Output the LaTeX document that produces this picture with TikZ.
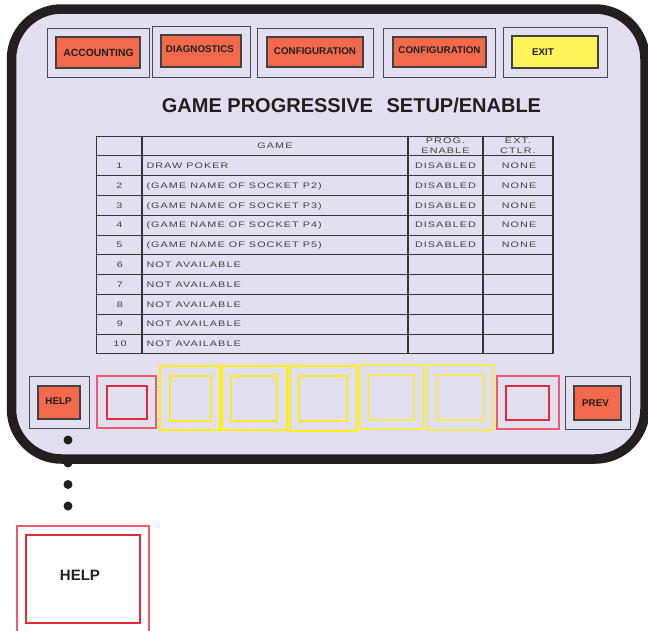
\documentclass[tikz,border=0pt]{standalone}
\usepackage{graphicx}
\usepackage{fontspec}
\setmainfont{Liberation Sans}
\newfontfamily\cellfont{Liberation Sans}[LetterSpace=10]

\definecolor{panelbg}{HTML}{E1DFF0}
\definecolor{ink}{HTML}{231F20}
\definecolor{btnred}{HTML}{F26A4B}
\definecolor{btnyel}{HTML}{FFF35C}
\definecolor{framegray}{HTML}{4A4A55}
\definecolor{keyred}{HTML}{E8283A}
\definecolor{keypink}{HTML}{EF5A6C}
\definecolor{keyyel}{HTML}{FFF200}
\definecolor{keyyelin}{HTML}{F8EC2A}
\definecolor{keyyelpale}{HTML}{F5EC55}

% wide, tracked lettering used in the table cells
\newcommand\widetext[1]{\scalebox{1.35}[1]{#1}}
\newcommand\widestack[1]{\scalebox{1.35}[1]{\begin{tabular}{@{}c@{}}#1\end{tabular}}}

% rectangle node given by two opposite corners: name, style, x1, y1, x2, y2
\newcommand\cornerbox[6]{%
  \node[#2, minimum width={(#5)-(#3)}, minimum height={(#6)-(#4)}]
    (#1) at ({((#3)+(#5))/2},{((#4)+(#6))/2}) {};}

\begin{document}
\begin{tikzpicture}[x=1pt, y=-1pt,
  every node/.style={inner sep=0pt, outer sep=0pt, text=ink},
  panel/.style={rectangle, rounded corners=50pt, fill=panelbg, draw=ink, line width=9.5pt},
  frame/.style={rectangle, draw=framegray, line width=0.9pt},
  redbtn/.style={rectangle, draw=ink!85, line width=1.3pt, fill=btnred},
  yelbtn/.style={rectangle, draw=ink!85, line width=1.3pt, fill=btnyel},
  btnlabel/.style={font=\bfseries\fontsize{9.8}{11}\selectfont},
  keyouter/.style={rectangle, draw=keypink, line width=1.1pt},
  keyinner/.style={rectangle, draw=keyred, line width=1.2pt},
  yelouter/.style={rectangle, draw=keyyel, line width=1.4pt},
  yelinner/.style={rectangle, draw=keyyelin, line width=1.3pt},
  paleouter/.style={rectangle, draw=keyyelpale, line width=1.3pt},
  paleinner/.style={rectangle, draw=keyyelpale, line width=1.3pt},
  gridline/.style={draw=ink!90, line width=0.8pt},
  colline/.style={draw=ink!90, line width=1.2pt},
  cell/.style={font=\cellfont\fontsize{8}{9.5}\selectfont, text=ink!85, text height=5.7pt, text depth=0pt},
  headcell/.style={font=\cellfont\fontsize{8}{9.5}\selectfont, text=ink!85},
  dot/.style={circle, fill=ink, minimum size=9pt},
]
\useasboundingbox (0,0) rectangle (648,630);
\clip (0,0) rectangle (648,630);

% console panel
\node[panel, minimum width=633.5pt, minimum height=450pt] (panel) at (328.25,234) {};

% top row of buttons
\cornerbox{accframe}{frame}{47}{28}{149}{77}
\cornerbox{acc}{redbtn}{56}{37}{140}{68}
\node[btnlabel, font=\bfseries\fontsize{10.4}{12}\selectfont] (acclbl) at (98.5,52.5) {ACCOUNTING};

\cornerbox{diagframe}{frame}{152}{26}{250}{77}
\cornerbox{diag}{redbtn}{161}{35}{241}{67}
\node[btnlabel] (diaglbl) at (200,49) {DIAGNOSTICS};

\cornerbox{confaframe}{frame}{257}{28}{373}{77}
\cornerbox{confa}{redbtn}{267}{37}{363}{67}
\node[btnlabel] (confalbl) at (315,51.5) {CONFIGURATION};

\cornerbox{confbframe}{frame}{383}{28}{495}{77}
\cornerbox{confb}{redbtn}{393}{37}{486}{67}
\node[btnlabel] (confblbl) at (439.5,50) {CONFIGURATION};

\cornerbox{exitframe}{frame}{503}{27}{607}{77}
\cornerbox{exit}{yelbtn}{512}{36}{598}{68}
\node[btnlabel] (exitlbl) at (543,52) {EXIT};

% title
\node[font=\bfseries\fontsize{20}{24}\selectfont] (title) at (351.5,105)
  {GAME PROGRESSIVE\hspace{0.4em} SETUP/ENABLE};

% game table
\foreach \k in {0,...,11}
  \draw[gridline] (96,{136+19.8*\k}) -- (553,{136+19.8*\k});
\draw[gridline] (96,136) -- (96,353.8);
\foreach \cx in {142,408,483,553}
  \draw[colline] (\cx,136) -- (\cx,353.8);

\node[cell] (hgame) at (275,146) {\widetext{GAME}};
\node[headcell] (hprog) at (445.5,146.5) {\widestack{PROG.\\ENABLE}};
\node[headcell] (hext) at (518,146.5) {\widestack{EXT.\\CTLR.}};

\foreach \i/\g in {1/{DRAW POKER}, 2/{(GAME NAME OF SOCKET P2)}, 3/{(GAME NAME OF SOCKET P3)},
                   4/{(GAME NAME OF SOCKET P4)}, 5/{(GAME NAME OF SOCKET P5)}} {
  \node[cell] (num\i) at (119.5,{136+19.8*\i+9.9}) {\widetext{\i}};
  \node[cell, anchor=west] (game\i) at (146.5,{136+19.8*\i+9.9}) {\widetext{\g}};
  \node[cell] (prog\i) at (445.5,{136+19.8*\i+9.9}) {\widetext{DISABLED}};
  \node[cell] (ext\i) at (519,{136+19.8*\i+9.9}) {\widetext{NONE}};
}
\foreach \i in {6,...,10} {
  \node[cell] (num\i) at (120,{136+19.8*\i+9.9}) {\widetext{\i}};
  \node[cell, anchor=west] (game\i) at (146.5,{136+19.8*\i+9.9}) {\widetext{NOT AVAILABLE}};
}

% bottom row of keys
\cornerbox{helpframe}{frame}{29}{376}{89}{428}
\cornerbox{help}{redbtn}{38}{386}{80}{419}
\node[btnlabel] (helplbl) at (58.5,401.5) {HELP};

\cornerbox{keyaout}{keyouter}{97}{376}{156}{428}
\cornerbox{keyain}{keyinner}{107}{386}{147}{419}

\cornerbox{ykeyaout}{yelouter}{160}{366}{220}{430}
\cornerbox{ykeyain}{yelinner}{170}{376}{211}{421}
\cornerbox{ykeybout}{yelouter}{222}{366}{287}{430}
\cornerbox{ykeybin}{yelinner}{231}{376}{277}{421}
\cornerbox{ykeycout}{yelouter}{290}{366}{357}{431}
\cornerbox{ykeycin}{yelinner}{299}{376}{347}{421}
\cornerbox{ykeydout}{paleouter}{360}{365}{423}{429}
\cornerbox{ykeydin}{paleinner}{369}{375}{414}{420}
\cornerbox{ykeyeout}{paleouter}{427}{365}{493}{430}
\cornerbox{ykeyein}{paleinner}{437}{375}{484}{420}

\cornerbox{keybout}{keyouter}{497}{376}{559}{429}
\cornerbox{keybin}{keyinner}{506}{386}{549}{420}

\cornerbox{prevframe}{frame}{565}{376}{630}{429}
\cornerbox{prev}{redbtn}{574}{386}{621}{420}
\node[btnlabel] (prevlbl) at (595.5,403) {PREV};

% dotted lead from the HELP key to the help screen
\node[dot] (d1) at (68,440) {};
\node[dot] (d2) at (68,463) {};
\node[dot] (d3) at (68,484.5) {};
\node[dot] (d4) at (68,506) {};

% help screen
\cornerbox{helpscrout}{keyouter}{17}{526}{149}{650}
\cornerbox{helpscr}{keyinner}{26}{535}{140}{623}
\node[font=\bfseries\fontsize{15}{18}\selectfont] (helpscrlbl) at (80,575) {HELP};
\end{tikzpicture}
\end{document}
